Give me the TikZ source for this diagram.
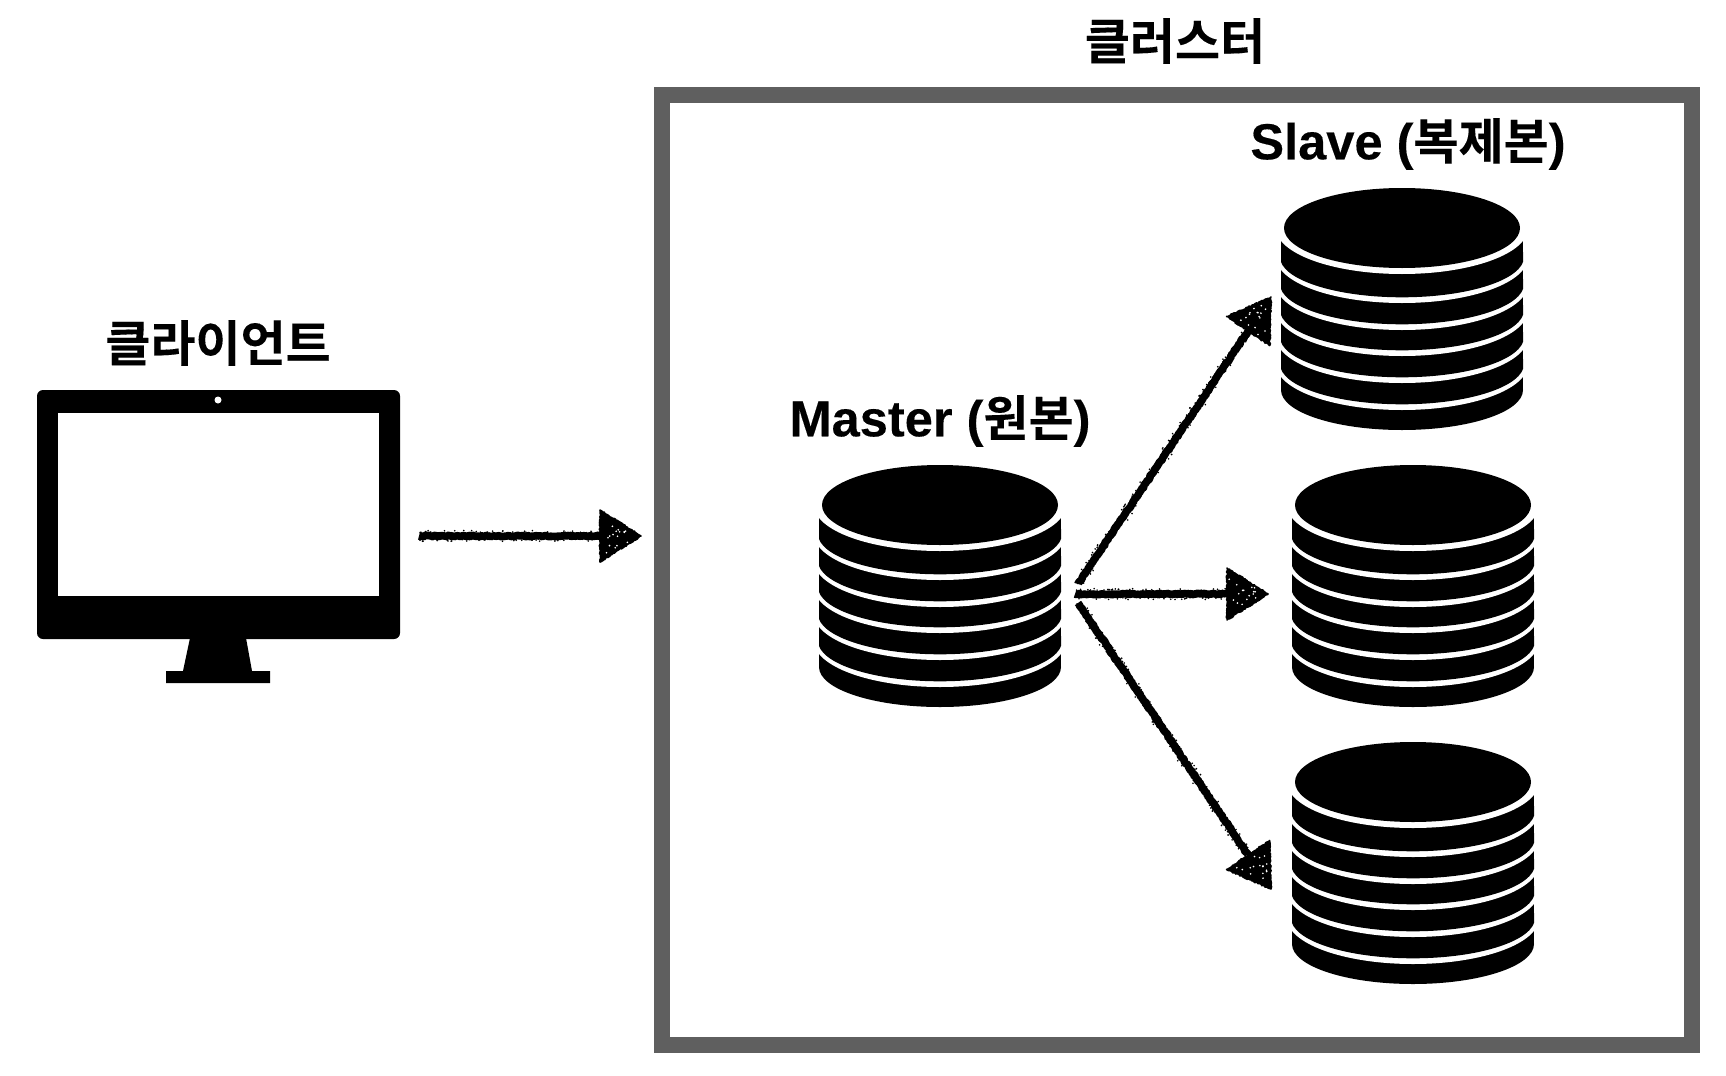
\documentclass[tikz,border=0pt]{standalone}
\usepackage{fontspec}
\setmainfont{Liberation Sans Bold}[FakeBold=0.25]
\newfontfamily\kr{Noto Sans CJK KR Bold}[FakeBold=0.15]
\usetikzlibrary{calc,decorations.pathmorphing}
\definecolor{framegray}{HTML}{5F5F5F}
\pgfmathsetseed{42}
\newcommand{\krsize}{\kr\fontsize{24.5}{28}\selectfont}
\tikzset{
  px/.style={x=0.5pt,y=-0.5pt},
  label/.style={font=\fontsize{25.3}{29}\selectfont,inner sep=0pt,text=black},
  clusterframe/.style={draw=framegray,line width=8pt,fill=none,inner sep=0pt,minimum width=515pt,minimum height=475pt},
  rough/.style={decorate,decoration={random steps,segment length=0.7pt,amplitude=0.35pt}},
  roughline/.style={rough,draw=black,line width=3.8pt,line join=round},
  roughhead/.style={rough,fill=black,draw=black,line width=0.8pt,line join=round},
}
\newcommand{\dbicon}[3]{%
  \begin{scope}[shift={(#2,#3)}]
    \coordinate (#1) at (0,120);
    \begin{scope}
      \clip (-121,-10) rectangle (121,250);
      \fill[black] (-121,176) rectangle (121,202);
      \fill[black] (0,202) ellipse [x radius=121,y radius=40];
      \fill[white] (0,176) ellipse [x radius=126,y radius=46];
      \foreach \ca/\cb in {149/176,122/149,96/122,69/96,40/69}{
        \fill[black] (-121,\ca) rectangle (121,\cb);
        \fill[black] (0,\cb) ellipse [x radius=122,y radius=40.3];
        \fill[white] (0,\ca) ellipse [x radius=126,y radius=46];
      }
      \fill[black] (0,40) ellipse [x radius=118,y radius=40];
    \end{scope}
  \end{scope}}
\newcommand{\roughArrow}[2]{%
  \coordinate (base) at ($(#2)!20.5pt!(#1)$);
  \draw[roughline] (#1) -- (base);
  \foreach \k in {1,...,170}{
    \pgfmathsetmacro{\ff}{rnd}
    \pgfmathsetmacro{\oo}{(rnd-0.5)*5.6}
    \fill[black] ($($(#1)!\ff!(base)$)!\oo pt!90:(base)$) circle [radius=0.9];
  }
  \path[roughhead] (#2) -- ($(base)!13pt!90:(#2)$) -- ($(base)!13pt!-90:(#2)$) -- cycle;
  \foreach \k in {1,...,16}{
    \pgfmathsetmacro{\uu}{0.3+0.65*rnd}
    \pgfmathsetmacro{\vv}{(rnd-0.5)*1.6*\uu*13}
    \fill[white] ($($(#2)!\uu!(base)$)!\vv pt!90:(base)$) circle [radius=0.9];
  }}
\begin{document}
\begin{tikzpicture}[px]
  \useasboundingbox (0,0) rectangle (1726,1076);
  \fill[white] (0,0) rectangle (1726,1076);
  % cluster frame
  \node[clusterframe] (cluster) at (1177,570) {};
  % client monitor
  \fill[black,rounded corners=3pt] (37,390) rectangle (400,639);
  \fill[white] (58,413) rectangle (379,596);
  \fill[white] (218,400) circle [radius=3.5];
  \fill[black] (190,638) -- (246,638) -- (252,671) -- (270,671) -- (270,683) -- (166,683) -- (166,671) -- (183,671) -- cycle;
  % cylinders
  \dbicon{master}{940}{465}
  \dbicon{slaveA}{1402}{188}
  \dbicon{slaveB}{1413}{465}
  \dbicon{slaveC}{1413}{742}
  % labels
  \node[label] (lclient) at (218,343) {\krsize 클라이언트};
  \node[label] (lcluster) at (1175,41) {\krsize 클러스터};
  \node[label] (lmaster) at (940,421) {Master ({\krsize 원본})};
  \node[label] (lslave) at (1408,144) {Slave ({\krsize 복제본})};
  % connectors
  \coordinate (c0) at (419,536);
  \coordinate (t0) at (641,536);
  \coordinate (s1) at (1078,584);
  \coordinate (t1) at (1271,297);
  \coordinate (s2) at (1075,594);
  \coordinate (t2) at (1268,594);
  \coordinate (s3) at (1078,603);
  \coordinate (t3) at (1271,889);
  \roughArrow{c0}{t0}
  \roughArrow{s1}{t1}
  \roughArrow{s2}{t2}
  \roughArrow{s3}{t3}
\end{tikzpicture}
\end{document}
